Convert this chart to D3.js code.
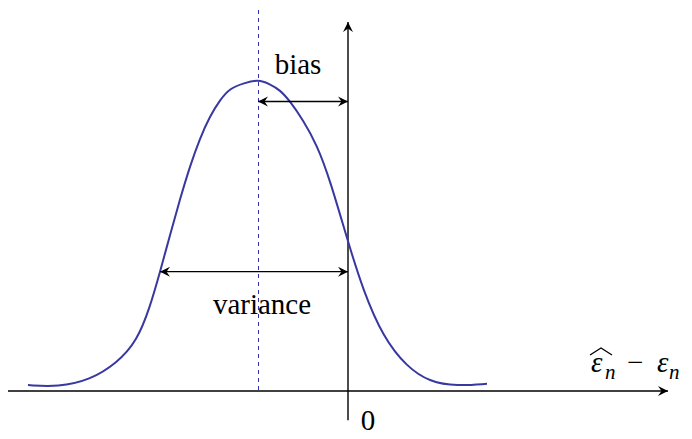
<!DOCTYPE html>
<html>
<head>
    <meta charset="utf-8">
    <script src="https://d3js.org/d3.v7.min.js"></script>
    <style>
        body {
            margin: 0;
            background-color: white;
        }
        #chart {
            position: relative;
            width: 692px;
            height: 439px;
        }
        svg {
            display: block;
        }
        .lbl {
            position: absolute;
            font-family: "Liberation Serif", Tinos, "Times New Roman", Times, serif;
            line-height: 1;
            white-space: nowrap;
            color: black;
        }
    </style>
</head>
<body>
    <div id="chart">
        <svg width="692" height="439"></svg>
    </div>

    <script>
        // curve (x in arbitrary units, 0 at the y axis; y = density, peak = 1)
        const curveX = [-8, -7.25, -6.45, -5.775, -5.275, -4.95, -4.7, -4.45, -4.2, -3.95, -3.7, -3.45, -3.2, -2.95, -2.6, -2.25,
                        -1.95, -1.7, -1.45, -1.125, -0.775, -0.45, 0, 0.375, 0.875, 1.475, 2.05, 2.725, 3.475];
        const curveY = [0.019, 0.013, 0.035, 0.09, 0.161, 0.271, 0.384, 0.503, 0.619, 0.726, 0.816, 0.887, 0.939, 0.977, 0.993, 1.005,
                        0.99, 0.971, 0.935, 0.874, 0.794, 0.681, 0.481, 0.326, 0.174, 0.077, 0.029, 0.016, 0.023];

        const peakX = -2.25;        // mean of the estimator
        const biasY = 0.934;
        const varianceLeft = -4.7;
        const varianceY = 0.385;

        const xDomain = [-8.5, 8];
        const yAxisRange = [-0.094, 1.19];
        const meanLineTop = 1.23;

        const svg = d3.select("svg");
        const chart = d3.select("#chart");

        const x = d3.scaleLinear().domain(xDomain).range([8, 668]);
        const y = d3.scaleLinear().domain([0, 1]).range([391, 81]);

        const defs = svg.append("defs");
        defs.append("marker")
            .attr("id", "tip")
            .attr("viewBox", "-10 -6 12 12")
            .attr("refX", 0)
            .attr("refY", 0)
            .attr("markerWidth", 12)
            .attr("markerHeight", 12)
            .attr("markerUnits", "userSpaceOnUse")
            .attr("orient", "auto-start-reverse")
            .append("path")
            .attr("d", "M0,0 L-10,-5 L-6.5,0 L-10,5 Z")
            .attr("fill", "black");

        // axes
        svg.append("line")
            .attr("stroke", "black").attr("stroke-width", 1.4)
            .attr("x1", x(xDomain[0])).attr("x2", x(xDomain[1]))
            .attr("y1", y(0)).attr("y2", y(0))
            .attr("marker-end", "url(#tip)");

        svg.append("line")
            .attr("stroke", "black").attr("stroke-width", 1.4)
            .attr("x1", x(0)).attr("x2", x(0))
            .attr("y1", y(yAxisRange[0])).attr("y2", y(yAxisRange[1]))
            .attr("marker-end", "url(#tip)");

        // dashed line at the mean
        svg.append("line")
            .attr("stroke", "#3030b0").attr("stroke-width", 1)
            .attr("stroke-dasharray", "4 4")
            .attr("shape-rendering", "crispEdges")
            .attr("x1", x(peakX) + 0.5).attr("x2", x(peakX) + 0.5)
            .attr("y1", y(meanLineTop)).attr("y2", y(0));

        // density curve
        const line = d3.line()
            .x((d, i) => x(curveX[i]))
            .y(d => y(d))
            .curve(d3.curveBasis);

        svg.append("path")
            .datum(curveY)
            .attr("fill", "none")
            .attr("stroke", "#3838a0")
            .attr("stroke-width", 2)
            .attr("d", line);

        // bias / variance spans
        svg.append("line")
            .attr("stroke", "black").attr("stroke-width", 1.4)
            .attr("x1", x(peakX)).attr("x2", x(0))
            .attr("y1", y(biasY)).attr("y2", y(biasY))
            .attr("marker-start", "url(#tip)")
            .attr("marker-end", "url(#tip)");

        svg.append("line")
            .attr("stroke", "black").attr("stroke-width", 1.4)
            .attr("x1", x(varianceLeft)).attr("x2", x(0))
            .attr("y1", y(varianceY)).attr("y2", y(varianceY))
            .attr("marker-start", "url(#tip)")
            .attr("marker-end", "url(#tip)");

        // labels as html text laid over the svg; (px, py) is the baseline point
        const label = (txt, size, px, py, centred, italic) => chart.append("div")
            .attr("class", "lbl")
            .style("font-size", size + "px")
            .style("font-style", italic ? "italic" : "normal")
            .style("left", px + "px")
            .style("top", (py - size * 0.84) + "px")
            .style("transform", centred ? "translateX(-50%)" : null)
            .text(txt);

        label("bias", 29, 298, 74, true);
        label("variance", 29, 262, 314, true);
        label("0", 29, x(0) + 20, 430, true);

        // axis label: hat(eps)_n - eps_n
        label("ε", 29, 591, 372, false, true);
        svg.append("path")
            .attr("d", "M590,355 L601,348 L612,355")
            .attr("fill", "none")
            .attr("stroke", "black")
            .attr("stroke-width", 1.3);
        label("n", 21, 605, 380, false, true);
        label("−", 29, 627, 372, false);
        label("ε", 29, 657, 372, false, true);
        label("n", 21, 669, 380, false, true);
    </script>
</body>
</html>
